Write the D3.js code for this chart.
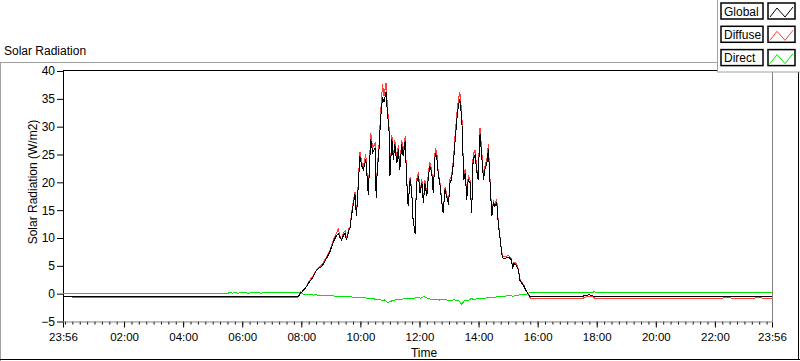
<!DOCTYPE html>
<html lang="en">
<head>
<meta charset="UTF-8">
<title>Solar Radiation</title>
<script src="https://d3js.org/d3.v7.min.js"></script>
<style>
  body { margin: 0; background: #fff; }
  svg { display: block; font-family: "Liberation Sans", Arial, sans-serif; }
  .tick text { fill: #000; }
</style>
</head>
<body>
<svg id="chart" width="800" height="361"></svg>
<script>
// minutes after midnight (-4 = 23:56 of the previous day)
const times = [-4, 60, 180, 300, 420, 470, 474, 479, 481, 490, 497, 504, 511, 516, 521, 526, 531, 538, 545, 550,
  555, 559, 562, 566, 569, 572, 576, 579, 582, 585, 589, 592, 596, 599, 603, 606, 611, 614, 616, 621,
  625, 630, 632, 634, 638, 641, 645, 648, 652, 655, 659, 660, 664, 667, 670, 674, 677, 680, 684, 687,
  691, 694, 697, 701, 704, 707, 711, 714, 718, 721, 725, 728, 731, 735, 738, 741, 745, 748, 752, 755,
  758, 762, 765, 768, 772, 775, 779, 782, 785, 789, 792, 796, 799, 802, 806, 808, 810, 813, 816, 819,
  823, 826, 829, 833, 836, 839, 843, 846, 850, 853, 857, 860, 863, 867, 870, 873, 877, 880, 884, 887,
  890, 894, 900, 904, 907, 909, 912, 917, 921, 924, 931, 938, 944, 948, 1000, 1050, 1058, 1065, 1072, 1078,
  1200, 1320, 1340, 1380, 1410, 1436];

const global = [-0.55, -0.55, -0.55, -0.55, -0.55, -0.55, -0.5, 0.2, 0.3, 1.2, 2.2, 3.0, 4.2, 4.6, 4.8, 5.5, 6.3, 7.5, 9.3, 10.2,
  10.8, 10.0, 9.6, 10.6, 10.8, 9.6, 11.2, 11.8, 14.0, 15.7, 17.8, 13.9, 19.9, 24.7, 22.9, 22.3, 24.1, 20.5, 17.8, 27.7,
  25.3, 26.2, 17.2, 21.7, 26.2, 31.3, 35.3, 34.4, 36.2, 32.5, 28.3, 21.1, 27.7, 24.1, 26.8, 23.4, 25.9, 22.3, 26.8, 24.7,
  27.4, 20.5, 15.7, 20.5, 18.7, 13.3, 10.8, 19.9, 21.1, 18.1, 19.9, 16.3, 19.9, 17.5, 21.1, 22.9, 21.7, 18.1, 25.3, 24.7,
  21.7, 19.3, 16.6, 14.5, 18.7, 17.5, 16.0, 19.9, 20.5, 23.5, 27.1, 31.3, 33.7, 35.0, 31.3, 25.9, 20.5, 21.7, 16.9, 20.5,
  19.9, 14.5, 24.1, 24.9, 22.3, 20.5, 28.6, 25.3, 20.5, 22.3, 23.5, 25.9, 20.5, 13.9, 16.3, 15.7, 16.3, 12.7, 9.6, 7.2,
  6.3, 6.3, 6.6, 6.3, 6.0, 4.5, 5.4, 5.1, 4.2, 2.4, 1.5, 0.3, -0.5, -0.5, -0.5, -0.5, -0.3, -0.2, -0.4, -0.5,
  -0.5, -0.5, -0.5, -0.5, -0.5, -0.5];

const diffuse = [-0.55, -0.72, -0.7, -0.72, -0.72, -0.7, -0.6, 0.3, 0.2, 1.3, 2.4, 3.2, 4.3, 4.8, 5.1, 5.8, 6.6, 7.8, 9.6, 10.6,
  11.6, 10.3, 9.8, 11.0, 11.3, 9.8, 11.6, 12.0, 14.4, 16.2, 18.3, 14.1, 20.5, 25.5, 23.5, 22.8, 25.0, 20.9, 18.0, 28.9,
  26.2, 27.0, 17.4, 22.2, 27.0, 32.2, 37.7, 35.5, 37.8, 33.5, 29.0, 21.3, 28.5, 24.6, 27.6, 23.8, 26.7, 22.6, 27.6, 25.2,
  28.3, 20.8, 15.8, 21.0, 19.0, 13.4, 10.9, 20.4, 21.8, 18.4, 20.5, 16.5, 20.4, 17.8, 21.8, 23.6, 22.1, 18.3, 26.1, 25.6,
  22.0, 19.7, 16.8, 14.6, 19.2, 18.0, 16.2, 20.6, 21.0, 24.2, 28.0, 32.5, 34.8, 36.2, 32.4, 26.5, 20.8, 22.4, 17.1, 21.2,
  20.4, 14.6, 25.0, 25.8, 22.8, 20.9, 29.8, 26.2, 20.9, 22.9, 24.2, 26.8, 21.0, 14.0, 16.6, 16.0, 17.0, 13.0, 9.8, 7.4,
  6.6, 6.6, 6.9, 6.5, 6.2, 4.6, 5.7, 5.4, 4.4, 2.6, 1.7, 0.4, -0.7, -0.9, -0.9, -0.9, -0.6, -0.5, -0.6, -0.9,
  -0.9, -0.9, -0.75, -0.85, -0.75, -0.9];

const directTimes = [-4, 330, 335, 340, 345, 352, 360, 368, 375, 382, 390, 398, 405, 412, 420, 428, 440, 450, 460, 470,
  478, 485, 495, 505, 510, 520, 530, 540, 550, 560, 570, 580, 590, 600, 610, 618, 625, 632, 640, 645,
  650, 655, 660, 668, 675, 680, 690, 700, 708, 715, 722, 730, 735, 740, 750, 760, 770, 780, 790, 800,
  803, 806, 809, 812, 818, 825, 832, 840, 850, 860, 870, 880, 890, 900, 910, 920, 935, 944, 1000, 1070,
  1075, 1080, 1436];
const direct = [0.05, 0.05, 0.2, 0.1, 0.15, 0.1, 0.2, 0.12, 0.1, 0.22, 0.18, 0.1, 0.15, 0.22, 0.2, 0.12, 0.15, 0.22, 0.2, 0.12,
  0.18, -0.1, -0.15, -0.25, -0.2, -0.35, -0.4, -0.3, -0.5, -0.45, -0.6, -0.55, -0.7, -0.6, -0.75, -0.9, -0.8, -1.1, -1.0, -1.3,
  -1.1, -1.6, -1.4, -1.2, -1.0, -1.1, -0.9, -0.8, -0.95, -0.6, -0.8, -0.5, -0.75, -0.95, -1.0, -1.15, -1.0, -1.25, -1.1, -1.3,
  -1.6, -1.9, -1.5, -1.2, -1.3, -0.9, -1.05, -0.8, -0.9, -0.65, -0.7, -0.5, -0.55, -0.35, -0.45, -0.25, -0.2, 0.15, 0.15, 0.18,
  0.35, 0.18, 0.15];

const seriesNames = ["Global", "Diffuse", "Direct"];
const seriesColors = ["#000000", "#ff3c3c", "#00e600"];

const xTickMinutes = [-4, 120, 240, 360, 480, 600, 720, 840, 960, 1080, 1200, 1320, 1436];
const xTickLabels = ["23:56", "02:00", "04:00", "06:00", "08:00", "10:00", "12:00", "14:00", "16:00", "18:00", "20:00", "22:00", "23:56"];
const yTicks = [-5, 0, 5, 10, 15, 20, 25, 30, 35, 40];

const toDate = m => new Date(2000, 0, 1, 0, m);

const svg = d3.select("#chart");
const plot = { left: 63, right: 772, top: 71, bottom: 321.5 };

const x = d3.scaleTime().domain([toDate(-4), toDate(1436)]).range([plot.left, plot.right]);
const y = d3.scaleLinear().domain([-5, 40]).range([plot.bottom, plot.top]);

// outer frame
svg.append("line").attr("x1", 0).attr("x2", 718).attr("y1", 62.5).attr("y2", 62.5).attr("stroke", "#a0a0a0");
svg.append("line").attr("x1", 0.5).attr("x2", 0.5).attr("y1", 62).attr("y2", 361).attr("stroke", "#a0a0a0");
svg.append("line").attr("x1", 0).attr("x2", 800).attr("y1", 359.5).attr("y2", 359.5).attr("stroke", "#000");
svg.append("line").attr("x1", 798.5).attr("x2", 798.5).attr("y1", 72).attr("y2", 360).attr("stroke", "#000");

svg.append("text").attr("x", 4).attr("y", 55).attr("font-size", 12).text("Solar Radiation");

// axes
const xAxis = d3.axisBottom(x)
  .tickValues(xTickMinutes.map(toDate))
  .tickFormat((d, i) => xTickLabels[i])
  .tickSize(6).tickSizeOuter(0).tickPadding(5);
const gx = svg.append("g").attr("transform", `translate(0,${plot.bottom})`).call(xAxis);
gx.select(".domain").remove();
gx.selectAll(".tick text").attr("font-size", 11.5).attr("font-family", "Liberation Sans");

const minor = d3.timeMinute.every(15).range(toDate(0), toDate(1436));
const gxm = svg.append("g").attr("transform", `translate(0,${plot.bottom})`)
  .call(d3.axisBottom(x).tickValues(minor).tickFormat("").tickSize(3).tickSizeOuter(0));
gxm.select(".domain").remove();

const yAxis = d3.axisLeft(y).tickValues(yTicks).tickSize(6).tickSizeOuter(0).tickPadding(2);
const gy = svg.append("g").attr("transform", `translate(${plot.left},0)`).call(yAxis);
gy.select(".domain").remove();
gy.selectAll(".tick text").attr("font-size", 12).attr("font-family", "Liberation Sans");

// plot frame
svg.append("line").attr("x1", plot.left).attr("x2", plot.right + 1).attr("y1", 70.5).attr("y2", 70.5).attr("stroke", "#000");
svg.append("line").attr("x1", plot.left + 0.5).attr("x2", plot.left + 0.5).attr("y1", 70).attr("y2", plot.bottom + 1).attr("stroke", "#000");
svg.append("line").attr("x1", plot.right + 0.5).attr("x2", plot.right + 0.5).attr("y1", 71).attr("y2", plot.bottom + 1).attr("stroke", "#808080");
svg.append("line").attr("x1", plot.left).attr("x2", plot.right + 1).attr("y1", plot.bottom + 0.5).attr("y2", plot.bottom + 0.5).attr("stroke", "#808080");

// axis titles
svg.append("text").attr("transform", "translate(37,182) rotate(-90)")
  .attr("text-anchor", "middle").attr("font-size", 12).text("Solar Radiation (W/m2)");
svg.append("text").attr("x", 424).attr("y", 357).attr("text-anchor", "middle").attr("font-size", 12).text("Time");

// data lines
const line = d3.line().x(d => x(toDate(d[0]))).y(d => y(d[1]));
const lines = [
  { data: directTimes.map((t, i) => [t, direct[i]]), color: seriesColors[2] },
  { data: times.map((t, i) => [t, diffuse[i]]), color: seriesColors[1] },
  { data: times.map((t, i) => [t, global[i]]), color: seriesColors[0] }
];
svg.append("g").selectAll("path").data(lines).enter().append("path")
  .attr("fill", "none")
  .attr("stroke", d => d.color)
  .attr("stroke-width", 1)
  .attr("shape-rendering", "crispEdges")
  .attr("d", d => line(d.data));

// legend
const lg = svg.append("g");
lg.append("rect").attr("x", 717.5).attr("y", -1).attr("width", 90).attr("height", 73)
  .attr("fill", "#fff").attr("stroke", "#a0a0a0");
const item = lg.selectAll(".item").data(seriesNames).enter().append("g")
  .attr("transform", (d, i) => `translate(0,${3 + i * 23.3})`);
item.append("rect").attr("x", 721).attr("y", 0).attr("width", 42).attr("height", 16)
  .attr("fill", "#fff").attr("stroke", "#000").attr("stroke-width", 1.5);
item.append("text").attr("x", 724).attr("y", 12.5).attr("font-size", 12).text(d => d);
item.append("rect").attr("x", 768).attr("y", 0).attr("width", 27).attr("height", 16)
  .attr("fill", "#fff").attr("stroke", "#000").attr("stroke-width", 1.5);
item.append("path")
  .attr("d", "M770,14 L777,5 L785,14 L793,4")
  .attr("fill", "none")
  .attr("stroke", (d, i) => seriesColors[i]);
</script>
</body>
</html>
